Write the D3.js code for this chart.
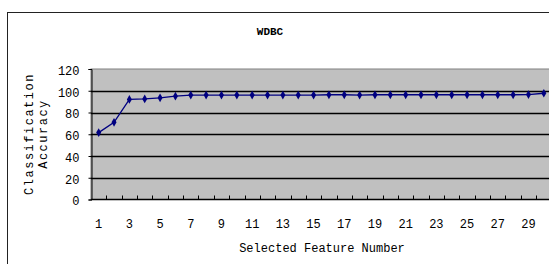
<!DOCTYPE html>
<html>
<head>
<meta charset="utf-8">
<script src="https://cdn.jsdelivr.net/npm/d3@7"></script>
<style>
  body { margin: 0; background: #fff; }
  text { font-family: "Liberation Mono", "DejaVu Sans Mono", monospace; fill: #000; }
</style>
</head>
<body>
<div id="chart"></div>
<script>
// feature counts and accuracy
const features = d3.range(1, 31);
const accuracy = [61.5, 71, 92, 92.5, 93.5, 95, 96, 96, 96, 96,
                  96, 96, 96, 96, 96, 96.3, 96.3, 96, 96.3, 96.3,
                  96.3, 96.3, 96.3, 96.3, 96.3, 96.3, 96.3, 96.3, 96.5, 97.7];
const yTicks = [0, 20, 40, 60, 80, 100, 120];
const xLabels = features.filter(d => d % 2 === 1);

const W = 549, H = 264;
const plot = { left: 91, top: 69, right: 551.5, bottom: 199.5 };

const svg = d3.select("#chart").append("svg")
  .attr("width", W).attr("height", H);

// outer chart frame (runs off the right and bottom edges)
svg.append("rect")
  .attr("x", 7.5).attr("y", 12.5)
  .attr("width", 560).attr("height", 280)
  .attr("fill", "#fff").attr("stroke", "#222");

svg.append("text")
  .attr("x", 270).attr("y", 35)
  .attr("text-anchor", "middle")
  .style("font-size", "11px")
  .style("font-weight", "bold")
  .text("WDBC");

const x = d3.scaleBand().domain(features).range([plot.left, plot.right]);
const y = d3.scaleLinear().domain([0, 120]).range([plot.bottom, plot.top]);

svg.append("rect")
  .attr("x", plot.left).attr("y", plot.top)
  .attr("width", plot.right - plot.left).attr("height", plot.bottom - plot.top)
  .attr("fill", "#c0c0c0").attr("stroke", "#808080");

// gridlines
svg.append("g").selectAll("line")
  .data(yTicks.filter(d => d > 0 && d < 120))
  .join("line")
  .attr("x1", plot.left).attr("x2", plot.right)
  .attr("y1", d => Math.round(y(d)) + 0.5).attr("y2", d => Math.round(y(d)) + 0.5)
  .attr("stroke", "#000").attr("stroke-width", 1.3);

// y axis
const yAxis = svg.append("g")
  .attr("transform", `translate(${plot.left + 0.5},0)`)
  .call(d3.axisLeft(y).tickValues(yTicks).tickSize(3).tickPadding(9));
yAxis.select(".domain").attr("stroke", "#000");
yAxis.selectAll("text").style("font-size", "12px").attr("dy", "0.45em");

// x axis with inside ticks between categories
const xAxis = svg.append("g")
  .attr("transform", `translate(0,${plot.bottom})`);
xAxis.append("line")
  .attr("x1", plot.left).attr("x2", plot.right)
  .attr("stroke", "#000").attr("stroke-width", 1.3);
xAxis.selectAll("line.tk")
  .data(features)
  .join("line").attr("class", "tk")
  .attr("x1", d => Math.round(x(d) + x.bandwidth()) + 0.5)
  .attr("x2", d => Math.round(x(d) + x.bandwidth()) + 0.5)
  .attr("y1", 0).attr("y2", -4)
  .attr("stroke", "#000");
xAxis.selectAll("text")
  .data(xLabels)
  .join("text")
  .attr("x", d => x(d) + x.bandwidth() / 2)
  .attr("y", 28)
  .attr("text-anchor", "middle")
  .style("font-size", "12px")
  .text(d => d);

svg.append("text")
  .attr("x", 322).attr("y", 252)
  .attr("text-anchor", "middle")
  .style("font-size", "12px")
  .text("Selected Feature Number");

// rotated y title in two lines
const yTitle = svg.append("text")
  .attr("transform", "translate(33,134) rotate(-90)")
  .attr("text-anchor", "middle")
  .style("font-size", "12px")
  .style("letter-spacing", "1.5px");
yTitle.append("tspan").attr("x", 0).attr("dy", 0).text("Classification");
yTitle.append("tspan").attr("x", 0).attr("dy", 14).text("Accuracy");

// series
const pts = features.map((f, i) => [x(f) + x.bandwidth() / 2, y(accuracy[i])]);
svg.append("path")
  .attr("d", d3.line()(pts))
  .attr("fill", "none").attr("stroke", "#000080").attr("stroke-width", 1.3);
svg.append("g").selectAll("path")
  .data(pts)
  .join("path")
  .attr("transform", d => `translate(${d[0]},${d[1]})`)
  .attr("d", d3.symbol(d3.symbolDiamond, 22))
  .attr("fill", "#000080");
</script>
</body>
</html>
